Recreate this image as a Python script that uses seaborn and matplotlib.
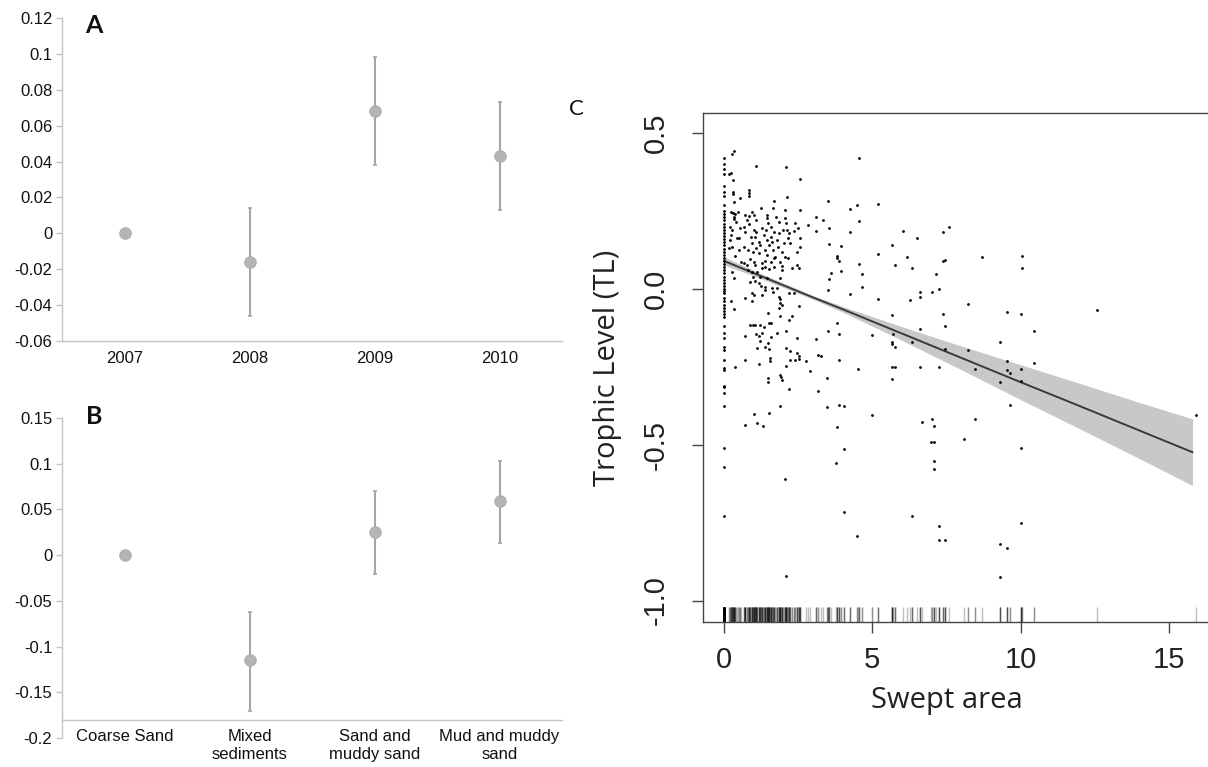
import numpy as np
import pandas as pd
import matplotlib
matplotlib.use("Agg")
import matplotlib.pyplot as plt
import seaborn as sns

# Panel A - year effect
years = ["2007", "2008", "2009", "2010"]
year_mean = [0.0, -0.016, 0.068, 0.043]
year_lo = [np.nan, -0.046, 0.038, 0.013]
year_hi = [np.nan, 0.014, 0.098, 0.073]

# Panel B - sediment effect
sediments = ["Coarse Sand", "Mixed\nsediments", "Sand and\nmuddy sand", "Mud and muddy\nsand"]
sed_mean = [0.0, -0.115, 0.025, 0.059]
sed_lo = [np.nan, -0.170, -0.021, 0.013]
sed_hi = [np.nan, -0.062, 0.070, 0.103]

# Panel C - trophic level vs swept area
# points sitting on swept area = 0
col0_y = [0.42, 0.40, 0.385, 0.37, 0.33, 0.31, 0.30, 0.27, 0.25, 0.24, 0.23, 0.22, 0.21,
          0.20, 0.19, 0.18, 0.17, 0.16, 0.15, 0.14, 0.13, 0.12, 0.11, 0.10, 0.09, 0.08,
          0.07, 0.06, 0.05, 0.04, 0.03, 0.02, 0.01, 0.0, -0.005, -0.013, -0.03, -0.04,
          -0.05, -0.06, -0.07, -0.08, -0.09, -0.12, -0.14, -0.157, -0.186, -0.196,
          -0.228, -0.254, -0.26, -0.31, -0.315, -0.334, -0.376, -0.51, -0.57, -0.73]

near_x = [0.27, 0.35, 1.08, 2.09, 2.56, 0.18, 0.24, 0.31, 0.31, 0.31, 0.83, 0.85, 0.85, 0.53,
          0.33, 1.67, 2.12, 1.26, 1.65, 2.07, 2.55, 0.22, 0.30, 0.38, 0.47, 0.72, 0.83, 0.94,
          1.0, 0.33, 0.40, 0.35, 0.78, 1.08, 0.83, 1.45, 1.45, 1.48, 1.75, 1.84, 2.07, 2.09,
          2.38, 2.83, 0.21, 0.27, 0.25, 0.55, 0.66, 0.70, 1.0, 1.09, 1.03, 1.28, 1.42, 1.36,
          1.6, 1.67, 1.6, 1.87, 1.98, 2.12, 2.2, 2.35, 2.49, 0.21, 0.44, 0.52, 0.92, 0.94,
          1.17, 1.22, 1.45, 1.51, 1.62, 1.79, 1.82, 2.01, 2.16, 2.24, 2.55, 2.57, 0.18, 0.27,
          0.49, 0.66, 0.81, 0.97, 1.09, 1.17, 1.37, 1.45, 1.65, 1.67, 1.73, 1.96, 2.07, 2.16,
          2.46, 0.38, 0.58, 0.66, 0.89, 1.0, 1.03, 1.28, 1.37, 1.39, 1.6, 1.67, 1.9, 1.96,
          2.29, 2.46, 2.54, 0.27, 0.33, 0.78, 0.81, 0.94, 0.97, 1.11, 1.22, 1.28, 1.45, 1.51,
          1.9, 1.96,
          0.89, 1.06, 1.17, 1.26, 1.39, 1.39, 1.62, 1.65, 1.79, 0.94, 1.0, 0.70, 1.28, 0.24,
          0.94, 1.84, 1.9, 1.9, 1.96, 2.2, 2.35, 2.54, 0.35, 1.84, 1.48, 1.5, 1.6, 1.9, 2.3,
          2.18, 0.89, 0.98, 1.06, 1.2, 1.34, 0.69, 1.08, 1.17, 1.28, 1.22, 1.39, 1.48, 1.6,
          1.79, 2.09, 2.47, 1.11, 1.5, 2.09, 2.24, 2.46, 2.52, 2.52, 2.38, 2.24, 1.56, 1.56,
          0.69, 1.19, 0.36, 2.09, 2.76, 2.91, 1.48, 1.48, 1.9, 1.92, 1.96, 2.18, 1.9, 1.0,
          1.5, 1.11, 1.31, 0.69, 2.06, 2.09]
near_y = [0.432, 0.444, 0.395, 0.393, 0.352, 0.369, 0.373, 0.35, 0.312, 0.304, 0.318, 0.307,
          0.299, 0.291, 0.28, 0.283, 0.296, 0.261, 0.259, 0.254, 0.254, 0.248, 0.243, 0.241,
          0.248, 0.238, 0.234, 0.248, 0.238, 0.23, 0.216, 0.224, 0.222, 0.222, 0.209, 0.238,
          0.227, 0.211, 0.232, 0.216, 0.227, 0.211, 0.211, 0.205, 0.2, 0.189, 0.173, 0.195,
          0.2, 0.184, 0.189, 0.184, 0.168, 0.195, 0.189, 0.173, 0.198, 0.184, 0.168, 0.179,
          0.189, 0.189, 0.179, 0.187, 0.195, 0.157, 0.163, 0.163, 0.168, 0.149, 0.152, 0.141,
          0.157, 0.141, 0.152, 0.157, 0.136, 0.147, 0.163, 0.147, 0.163, 0.136, 0.131, 0.136,
          0.125, 0.136, 0.125, 0.12, 0.131, 0.114, 0.125, 0.109, 0.125, 0.098, 0.104, 0.12,
          0.104, 0.101, 0.12, 0.106, 0.088, 0.082, 0.095, 0.088, 0.077, 0.082, 0.072, 0.091,
          0.088, 0.072, 0.088, 0.074, 0.066, 0.077, 0.066, 0.056, 0.034, 0.077, 0.061, 0.056,
          0.04, 0.056, 0.04, 0.066, 0.034, 0.063, 0.034, 0.061,
          0.024, 0.026, 0.018, 0.01, 0.007, -0.003, 0.002, -0.009, 0.002, -0.012, -0.019,
          -0.03, -0.019, -0.039, -0.04, -0.025, -0.032, -0.044, -0.051, -0.014, -0.014,
          -0.055, -0.065, -0.062, -0.078, -0.108, -0.11, -0.087, -0.087, -0.1, -0.117, -0.117,
          -0.115, -0.115, -0.121, -0.151, -0.145, -0.151, -0.142, -0.166, -0.185, -0.174,
          -0.155, -0.142, -0.135, -0.158, -0.188, -0.193, -0.19, -0.198, -0.207, -0.215,
          -0.226, -0.228, -0.228, -0.22, -0.231, -0.228, -0.242, -0.251, -0.247, -0.23,
          -0.262, -0.287, -0.297, -0.276, -0.282, -0.292, -0.321, -0.376, -0.401, -0.399,
          -0.429, -0.439, -0.438, -0.61, -0.92]

far_x = [4.56, 3.52, 4.25, 4.5, 5.2, 4.56, 3.09, 3.35, 3.09, 3.54, 4.25, 6.05, 6.5, 7.37, 7.57,
         3.54, 3.95, 5.65, 3.8, 3.8, 3.88, 5.2, 6.16, 7.37, 7.45, 8.69, 4.56, 4.64, 5.77, 6.35,
         3.95, 3.61, 3.54, 7.14, 4.64, 3.52, 4.25, 5.2, 6.27, 6.61, 6.61, 7.0, 7.26, 8.22,
         5.65, 7.37, 7.45, 3.82, 3.52, 3.88, 5.0, 6.62, 5.69, 3.09, 5.65, 5.68, 5.77, 6.35,
         9.32, 7.45, 8.22, 3.16, 3.27, 3.88, 4.51, 5.65, 5.77, 6.62, 7.26, 8.47, 3.46, 5.68,
         3.16, 3.47, 3.88, 4.06, 4.98, 3.82, 4.06, 3.78, 6.69, 7.0, 7.09, 6.98, 7.09, 7.09,
         7.09, 8.1, 8.47, 9.32, 4.06, 6.34, 4.49, 7.24, 7.24, 7.45, 9.32, 9.55, 9.32,
         10.04, 10.04, 9.53, 10.02, 12.57, 10.46, 9.53, 9.53, 9.66, 10.02, 10.02, 10.46, 9.66,
         10.02, 15.91, 10.02]
far_y = [0.422, 0.283, 0.256, 0.27, 0.272, 0.218, 0.232, 0.222, 0.186, 0.195, 0.182, 0.187,
         0.165, 0.184, 0.2, 0.144, 0.138, 0.14, 0.106, 0.10, 0.09, 0.112, 0.102, 0.09, 0.093,
         0.104, 0.079, 0.048, 0.078, 0.067, 0.059, 0.052, 0.032, 0.048, 0.005, -0.003, -0.017,
         -0.033, -0.035, -0.011, -0.025, -0.01, 0.0, -0.049, -0.085, -0.081, -0.118, -0.11,
         -0.134, -0.144, -0.148, -0.129, -0.144, -0.162, -0.17, -0.176, -0.185, -0.171, -0.171,
         -0.193, -0.196, -0.212, -0.215, -0.228, -0.256, -0.251, -0.251, -0.251, -0.251,
         -0.258, -0.285, -0.288, -0.326, -0.38, -0.372, -0.376, -0.404, -0.442, -0.513, -0.56,
         -0.428, -0.418, -0.44, -0.49, -0.49, -0.551, -0.578, -0.481, -0.417, -0.3, -0.717,
         -0.729, -0.793, -0.76, -0.807, -0.806, -0.817, -0.833, -0.923,
         0.107, 0.066, -0.073, -0.08, -0.067, -0.134, -0.231, -0.26, -0.271, -0.258, -0.294,
         -0.239, -0.372, -0.511, -0.404, -0.75]

# fitted line and confidence band
fit_x = [0, 1, 2, 3, 4, 6, 8, 10, 12, 14, 15.8]
fit_y = [0.090, 0.051, 0.012, -0.027, -0.065, -0.143, -0.221, -0.299, -0.376, -0.454, -0.524]
fit_lo = [0.077, 0.042, 0.005, -0.033, -0.074, -0.165, -0.259, -0.355, -0.449, -0.544, -0.631]
fit_hi = [0.103, 0.060, 0.019, -0.021, -0.056, -0.121, -0.183, -0.243, -0.303, -0.364, -0.417]

sns.set_theme(style="white")
plt.rcParams["font.family"] = ["Liberation Sans", "DejaVu Sans"]

W, H = 1208, 767
fig = plt.figure(figsize=(W / 100, H / 100), dpi=100)
axA = fig.add_axes([62 / W, 1 - 341 / H, 500 / W, 323 / H])
axB = fig.add_axes([62 / W, 1 - 738 / H, 500 / W, 320 / H])
axC = fig.add_axes([703 / W, 1 - 622 / H, (1213 - 703) / W, 509 / H])

axis_grey = "#c4c4c4"
pt_grey = "#b5b5b5"
bar_grey = "#a6a6a6"


def effect_panel(ax, cats, mean, lo, hi, ylim, yticks, ylabels, xcross):
    pos = np.arange(len(cats))
    mean = np.array(mean)
    err = np.vstack([mean - np.array(lo), np.array(hi) - mean])
    ax.errorbar(pos, mean, yerr=err, fmt="none", ecolor=bar_grey, elinewidth=1.5,
                capsize=1.5, capthick=1.2, zorder=2)
    df = pd.DataFrame({"pos": pos, "mean": mean})
    sns.scatterplot(data=df, x="pos", y="mean", ax=ax, s=70, color=pt_grey,
                    edgecolor="#a8a8a8", linewidth=0.6, zorder=3)
    ax.set_xlim(-0.5, len(cats) - 0.5)
    ax.set_ylim(*ylim)
    ax.set_yticks(yticks)
    ax.set_yticklabels(ylabels)
    ax.set_xticks(pos)
    ax.set_xticklabels(cats, linespacing=1.1)
    ax.set_xticks(np.arange(len(cats)) + 0.5, minor=True)
    ax.tick_params(axis="x", which="major", length=0, pad=7, labelsize=12, colors="#111111")
    ax.tick_params(axis="x", which="minor", length=4, width=1, color=axis_grey, direction="out")
    ax.tick_params(axis="y", length=4, width=1, color=axis_grey, pad=3, labelsize=12,
                   labelcolor="#111111", left=True)
    for s in ["top", "right"]:
        ax.spines[s].set_visible(False)
    for s in ["left", "bottom"]:
        ax.spines[s].set_color(axis_grey)
        ax.spines[s].set_linewidth(1)
    ax.spines["bottom"].set_position(("data", xcross))
    ax.set_xlabel("")
    ax.set_ylabel("")


effect_panel(axA, years, year_mean, year_lo, year_hi, (-0.06, 0.12),
             np.arange(-0.06, 0.121, 0.02),
             ["-0.06", "-0.04", "-0.02", "0", "0.02", "0.04", "0.06", "0.08", "0.1", "0.12"],
             -0.06)
effect_panel(axB, sediments, sed_mean, sed_lo, sed_hi, (-0.2, 0.15),
             np.arange(-0.2, 0.151, 0.05),
             ["-0.2", "-0.15", "-0.1", "-0.05", "0", "0.05", "0.1", "0.15"],
             -0.18)

# Panel C
tl_x = [0.0] * len(col0_y) + near_x + far_x
tl_y = col0_y + near_y + far_y
axC.fill_between(fit_x, fit_lo, fit_hi, color="#c8c8c8", linewidth=0, zorder=1)
sns.lineplot(x=fit_x, y=fit_y, ax=axC, color="#3a3a3a", linewidth=1.4, zorder=2)
sns.scatterplot(x=tl_x, y=tl_y, ax=axC, s=4, color="black", linewidth=0, zorder=3)
sns.rugplot(x=tl_x, ax=axC, height=0.03, color="black", alpha=0.25, linewidth=1)
axC.set_xlim(-0.71, 16.49)
axC.set_ylim(-1.069, 0.565)
axC.set_xticks([0, 5, 10, 15])
axC.set_yticks([-1.0, -0.5, 0.0, 0.5])
axC.set_yticklabels(["-1.0", "-0.5", "0.0", "0.5"], rotation=90, va="center")
axC.tick_params(axis="both", length=8, width=1, color="#444444", direction="out",
                labelsize=21, labelcolor="#222222", left=True, bottom=True)
axC.tick_params(axis="y", pad=16)
axC.tick_params(axis="x", pad=9)
for s in axC.spines.values():
    s.set_color("#444444")
    s.set_linewidth(1)
axC.set_xlabel("Swept area", fontsize=21, family=["Open Sans", "DejaVu Sans"],
               color="#222222", labelpad=12)
axC.xaxis.set_label_coords(0.478, -0.125)
axC.set_ylabel("Trophic Level (TL)", fontsize=21, family=["Open Sans", "DejaVu Sans"],
               color="#222222", labelpad=14)

fig.text(85 / W, 1 - 33 / H, "A", fontsize=18, fontweight="bold",
         family=["Lato", "DejaVu Sans"], color="#111111")
fig.text(86 / W, 1 - 424 / H, "B", fontsize=18, fontweight="bold",
         family=["Lato", "DejaVu Sans"], color="#111111")
fig.text(569 / W, 1 - 115 / H, "C", fontsize=16, family=["Lato", "DejaVu Sans"],
         color="#111111")

fig.savefig("out.png", dpi=100)
